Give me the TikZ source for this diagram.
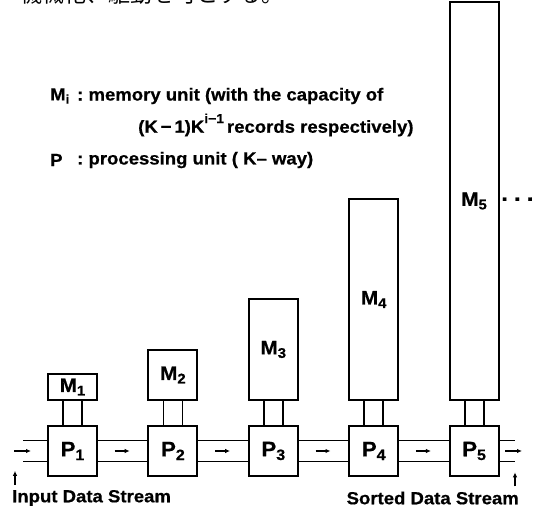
\documentclass[tikz,border=0pt]{standalone}
\usepackage{fontspec}
\setmainfont{Liberation Sans}[FakeStretch=1.06, BoldFeatures={FakeBold=0.6}]
\newfontfamily\jpfont{Noto Sans CJK JP}
\usetikzlibrary{arrows.meta, positioning, calc}
\newcommand{\lowidx}[1]{\raisebox{-0.18em}{\scalebox{0.72}{#1}}}
\newcommand{\highidx}[1]{\raisebox{0.55em}{\scalebox{0.75}{#1}}}

\begin{document}
\begin{tikzpicture}[
        x=1pt, y=1pt,
        node distance=49.4pt,
        unit/.style={rectangle, draw, line width=2pt, minimum width=49pt, inner sep=0pt, font=\bfseries\fontsize{19.5}{20}\selectfont},
        proc/.style={unit, minimum height=50pt, font=\bfseries\fontsize{21}{22}\selectfont},
        mem/.style={unit},
        bus/.style={line width=1.8pt},
        flow/.style={-{Latex[length=5pt,width=4.5pt]}, line width=1.3pt},
        caption/.style={font=\bfseries\fontsize{17.5}{18}\selectfont, inner sep=0pt, anchor=west}
    ]
        \useasboundingbox (0,0) rectangle (539,512);
        \begin{scope}
            \clip (0,0) rectangle (539,512);
            \node[anchor=west, inner sep=0pt, font=\jpfont\fontsize{22}{22}\selectfont] (note) at (20,518) {機械化、駆動を可とする。};
        \end{scope}

        \node[caption] (keym) at (50,416) {M\lowidx{i}};
        \node[caption] (descm) at (77,416) {:\ memory unit (with the capacity of};
        \node[caption] (descm2) at (138,387) {(K\,−\,1)K\highidx{i−1}\,records respectively)};
        \node[caption] (keyp) at (50,352) {P};
        \node[caption] (descp) at (77,352) {:\ processing unit ( K– way)};

        \node[proc] (p1) at (72.5,61) {P\lowidx{1}};
        \node[proc, right=of p1] (p2) {P\lowidx{2}};
        \node[proc, right=of p2] (p3) {P\lowidx{3}};
        \node[proc, right=of p3] (p4) {P\lowidx{4}};
        \node[proc, right=of p4] (p5) {P\lowidx{5}};

        \node[mem, minimum height=26pt, above=24pt of p1] (m1) {M\lowidx{1}};
        \node[mem, minimum height=50pt, above=24pt of p2] (m2) {M\lowidx{2}};
        \node[mem, minimum height=101pt, above=24pt of p3] (m3) {M\lowidx{3}};
        \node[mem, minimum height=201pt, above=24pt of p4] (m4) {M\lowidx{4}};
        \node[mem, minimum height=398pt, above=24pt of p5] (m5) {M\lowidx{5}};
        \node[inner sep=0pt, font=\bfseries\fontsize{22}{22}\selectfont] (more) at (518,310) {·\hspace{5pt}·\hspace{5pt}·};

        \draw[bus] ([xshift=-9.5pt]p1.north) -- ([xshift=-9.5pt]m1.south);
        \draw[bus] ([xshift=9.5pt]p1.north) -- ([xshift=9.5pt]m1.south);
        \draw[bus] ([xshift=-9.5pt]p2.north) -- ([xshift=-9.5pt]m2.south);
        \draw[bus] ([xshift=9.5pt]p2.north) -- ([xshift=9.5pt]m2.south);
        \draw[bus] ([xshift=-9.5pt]p3.north) -- ([xshift=-9.5pt]m3.south);
        \draw[bus] ([xshift=9.5pt]p3.north) -- ([xshift=9.5pt]m3.south);
        \draw[bus] ([xshift=-9.5pt]p4.north) -- ([xshift=-9.5pt]m4.south);
        \draw[bus] ([xshift=9.5pt]p4.north) -- ([xshift=9.5pt]m4.south);
        \draw[bus] ([xshift=-9.5pt]p5.north) -- ([xshift=-9.5pt]m5.south);
        \draw[bus] ([xshift=9.5pt]p5.north) -- ([xshift=9.5pt]m5.south);

        \coordinate (in) at (23,61);
        \coordinate (out) at (515,61);
        \draw[bus] ([yshift=10.5pt]in) -- ([yshift=10.5pt]p1.west);
        \draw[bus] ([yshift=-10.5pt]in) -- ([yshift=-10.5pt]p1.west);
        \draw[bus] ([yshift=10.5pt]p1.east) -- ([yshift=10.5pt]p2.west);
        \draw[bus] ([yshift=-10.5pt]p1.east) -- ([yshift=-10.5pt]p2.west);
        \draw[bus] ([yshift=10.5pt]p2.east) -- ([yshift=10.5pt]p3.west);
        \draw[bus] ([yshift=-10.5pt]p2.east) -- ([yshift=-10.5pt]p3.west);
        \draw[bus] ([yshift=10.5pt]p3.east) -- ([yshift=10.5pt]p4.west);
        \draw[bus] ([yshift=-10.5pt]p3.east) -- ([yshift=-10.5pt]p4.west);
        \draw[bus] ([yshift=10.5pt]p4.east) -- ([yshift=10.5pt]p5.west);
        \draw[bus] ([yshift=-10.5pt]p4.east) -- ([yshift=-10.5pt]p5.west);
        \draw[bus] ([yshift=10.5pt]p5.east) -- ([yshift=10.5pt]out);
        \draw[bus] ([yshift=-10.5pt]p5.east) -- ([yshift=-10.5pt]out);

        \draw[flow] ([xshift=-9pt]in) -- ([xshift=8pt]in);
        \draw[flow] ($(p1.east)!0.5!(p2.west)+(-8,0)$) -- +(15,0);
        \draw[flow] ($(p2.east)!0.5!(p3.west)+(-8,0)$) -- +(15,0);
        \draw[flow] ($(p3.east)!0.5!(p4.west)+(-8,0)$) -- +(15,0);
        \draw[flow] ($(p4.east)!0.5!(p5.west)+(-8,0)$) -- +(15,0);
        \draw[flow] ([xshift=-10pt]out) -- ([xshift=7pt]out);

        \node[caption] (instream) at (12,14) {Input Data Stream};
        \node[caption, anchor=east] (outstream) at (519,14) {Sorted Data Stream};
        \draw[flow] ([xshift=3pt,yshift=5pt]instream.north west) -- +(0,14);
        \draw[flow] ([xshift=-4pt,yshift=5pt]outstream.north east) -- +(0,14);
    \end{tikzpicture}
\end{document}
